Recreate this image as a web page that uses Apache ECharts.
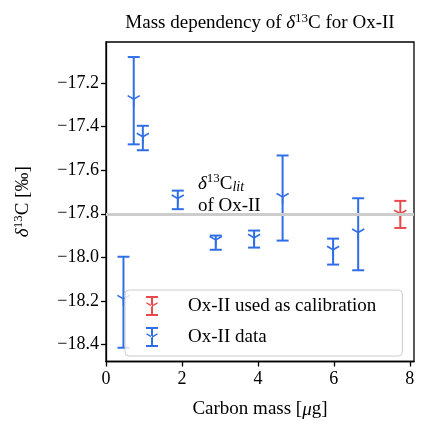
<!DOCTYPE html>
<html><head><meta charset="utf-8">
<script src="https://cdn.jsdelivr.net/npm/echarts@6/dist/echarts.min.js"></script>
<style>html,body{margin:0;padding:0;background:#fff}#c{width:424px;height:424px}</style>
</head><body><div id="c"></div>
<script>
// Data: [carbon mass, delta13C, lower error end, upper error end]
const dataMass = [0.46, 0.73, 0.97, 1.89, 2.89, 3.90, 4.65, 5.98, 6.64];
const dataDelta = [-18.19, -17.275, -17.447, -17.73, -17.92, -17.91, -17.723, -17.965, -17.886];
const dataLow = [-18.414, -17.482, -17.509, -17.779, -17.965, -17.955, -17.923, -18.033, -18.059];
const dataHigh = [-17.997, -17.082, -17.397, -17.694, -17.900, -17.877, -17.533, -17.914, -17.729];
const calMass = [7.75];
const calDelta = [-17.80];
const calLow = [-17.865];
const calHigh = [-17.741];
const litValue = -17.8;
const xTicks = [0, 2, 4, 6, 8];
const yTicks = [-18.4, -18.2, -18.0, -17.8, -17.6, -17.4, -17.2];

const BLUE = '#2f6ee6', RED = '#e84a4a';
const FONT = '"Liberation Serif", "DejaVu Serif", serif';
const FS = 19;

function rows(xs, ys, lo, hi) { return xs.map((x, i) => [x, ys[i], lo[i], hi[i]]); }

function renderErr(params, api) {
  const x = api.value(0), y = api.value(1), lo = api.value(2), hi = api.value(3);
  const p = api.coord([x, y]), pl = api.coord([x, lo]), ph = api.coord([x, hi]);
  const c = api.visual('color');
  const cap = 6, r = 7;
  const st = {stroke: c, lineWidth: 2, fill: null};
  const sm = {stroke: c, lineWidth: 1.6, fill: null};
  return {type: 'group', children: [
    {type: 'line', shape: {x1: p[0], y1: ph[1], x2: p[0], y2: pl[1]}, style: st},
    {type: 'line', shape: {x1: p[0] - cap, y1: ph[1], x2: p[0] + cap, y2: ph[1]}, style: st},
    {type: 'line', shape: {x1: p[0] - cap, y1: pl[1], x2: p[0] + cap, y2: pl[1]}, style: st},
    {type: 'polyline', shape: {points: [[p[0] - 0.866 * r, p[1] - 0.5 * r], [p[0], p[1]], [p[0] + 0.866 * r, p[1] - 0.5 * r]]}, style: sm},
    {type: 'line', shape: {x1: p[0], y1: p[1], x2: p[0], y2: p[1] + r}, style: sm}
  ]};
}

const ICON = 'path://M0,0H12V2H0Z M5,0H7V20H5Z M0,18H12V20H0Z M6,9.2L0.8,6.2L0.2,7.4L6,10.8Z M6,9.2L11.2,6.2L11.8,7.4L6,10.8Z';
const minus = v => (v < 0 ? '\u2212' : '') + Math.abs(v).toFixed(1);
const RICH = {
  i: {fontFamily: FONT, fontSize: FS, fontStyle: 'italic', color: '#000', lineHeight: 22},
  n: {fontFamily: FONT, fontSize: FS, color: '#000', lineHeight: 22},
  u: {fontFamily: FONT, fontSize: 13, color: '#000', verticalAlign: 'top', lineHeight: 13},
  s: {fontFamily: FONT, fontSize: 14, fontStyle: 'italic', color: '#000', verticalAlign: 'bottom', lineHeight: 14}
};

const chart = echarts.init(document.getElementById('c'), null, {renderer: 'canvas'});
chart.setOption({
  animation: false,
  backgroundColor: '#fff',
  textStyle: {fontFamily: FONT},
  title: {
    text: '{n|Mass dependency of }{i|δ}{u|13}{n|C for Ox-II}',
    left: 255, textAlign: 'center', top: 7,
    textStyle: {fontFamily: FONT, fontSize: FS, fontWeight: 'normal', color: '#000', rich: RICH}
  },
  grid: {left: 106, right: 10, top: 42, bottom: 60, show: true, borderColor: '#000', borderWidth: 1.3},
  xAxis: {
    type: 'value', min: 0, max: 8.11,
    name: '{n|Carbon mass [}{i|μ}{n|g]}', nameLocation: 'middle', nameGap: 37,
    nameTextStyle: {fontFamily: FONT, fontSize: FS, color: '#000', rich: RICH},
    axisLine: {show: true, lineStyle: {color: '#000', width: 1.3}},
    axisTick: {show: true, inside: false, length: 5, lineStyle: {color: '#000', width: 1.3}, customValues: xTicks},
    axisLabel: {show: true, fontFamily: FONT, fontSize: 18, color: '#000', margin: 9, customValues: xTicks,
      formatter: v => String(v)},
    splitLine: {show: false}
  },
  yAxis: {
    type: 'value', min: -18.477, max: -17.013,
    name: '{i|δ}{u|13}{n|C [‰]}', nameLocation: 'middle', nameGap: 72,
    nameTextStyle: {fontFamily: FONT, fontSize: FS, color: '#000', rich: RICH},
    axisLine: {show: true, lineStyle: {color: '#000', width: 1.3}},
    axisTick: {show: true, inside: false, length: 5, lineStyle: {color: '#000', width: 1.3}, customValues: yTicks},
    axisLabel: {show: true, fontFamily: FONT, fontSize: 18, color: '#000', margin: 7, customValues: yTicks,
      formatter: v => minus(v)},
    splitLine: {show: false}
  },
  legend: {
    data: ['Ox-II used as calibration', 'Ox-II data'],
    orient: 'vertical', left: 125, top: 290,
    itemWidth: 12, itemHeight: 20, itemGap: 11,
    padding: [6, 26, 9, 21],
    backgroundColor: 'rgba(255,255,255,0.8)', borderColor: '#cccccc', borderWidth: 1, borderRadius: 4,
    icon: ICON,
    textStyle: {fontFamily: FONT, fontSize: FS, color: '#000', padding: [0, 0, 0, 25]}
  },
  series: [
    {
      name: 'ref', type: 'line', data: [], z: 1, silent: true,
      markLine: {
        silent: true, symbol: ['none', 'none'], label: {show: false},
        lineStyle: {color: '#cccccc', width: 3, type: 'solid'},
        data: [{yAxis: litValue}]
      },
      markPoint: {
        silent: true, symbol: 'circle', symbolSize: 0,
        data: [{coord: [2.42, -17.712], value: 0}],
        label: {
          show: true, position: 'right', distance: 0, align: 'left',
          formatter: '{i|δ}{u|13}{n|C}{s|lit}\n{n|of Ox-II}',
          fontFamily: FONT, fontSize: FS, color: '#000', lineHeight: 20,
          rich: RICH
        }
      }
    },
    {
      name: 'Ox-II used as calibration', type: 'custom', z: 3,
      itemStyle: {color: RED},
      renderItem: renderErr,
      encode: {x: 0, y: [1, 2, 3]},
      data: rows(calMass, calDelta, calLow, calHigh)
    },
    {
      name: 'Ox-II data', type: 'custom', z: 3,
      itemStyle: {color: BLUE},
      renderItem: renderErr,
      encode: {x: 0, y: [1, 2, 3]},
      data: rows(dataMass, dataDelta, dataLow, dataHigh)
    }
  ]
});
</script>
</body></html>
